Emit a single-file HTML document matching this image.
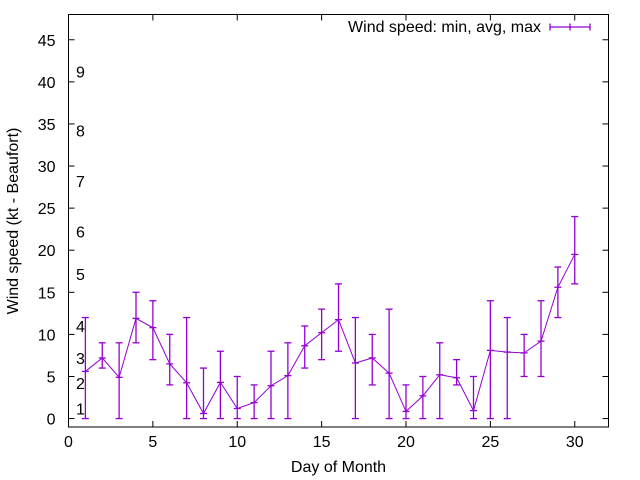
<!DOCTYPE html>
<html><head><meta charset="utf-8"><style>
body{margin:0;background:#fff}
svg{display:block;font-family:"Liberation Sans",sans-serif}
</style></head><body>
<svg id="chart" width="640" height="480" viewBox="0 0 640 480" xmlns="http://www.w3.org/2000/svg"></svg>
<script>
const days=[1,2,3,4,5,6,7,8,9,10,11,12,13,14,15,16,17,18,19,20,21,22,23,24,25,26,27,28,29,30];
const avgVals=[5.6,7.2,4.9,11.9,10.8,6.5,4.25,0.6,4.3,1.2,1.9,3.9,5.1,8.65,10.2,11.75,6.6,7.2,5.4,0.85,2.7,5.2,4.85,0.95,8.1,7.9,7.8,9.2,15.6,19.5];
const minVals=[0,6,0,9,7,4,0,0,0,0,0,0,0,6,7,8,0,4,0,0,0,0,4,0,0,0,5,5,12,16];
const maxVals=[12,9,9,15,14,10,12,6,8,5,4,8,9,11,13,16,12,10,13,4,5,9,7,5,14,12,10,14,18,24];
const xTicks=[0,5,10,15,20,25,30];
const yTicks=[0,5,10,15,20,25,30,35,40,45];
const beaufortLabels=["1","2","3","4","5","6","7","8","9"];
const beaufortVals=[1.2,4.2,7.2,11,17.2,22.2,28.2,34.2,41.2];

const L=68.5,R=608.5,T=14.5,B=427;
const xMin=0,xMax=32,yMin=-1,yMax=48;
const X=v=>L+(v-xMin)/(xMax-xMin)*(R-L);
const Y=v=>B-(v-yMin)/(yMax-yMin)*(B-T);
const svg=document.getElementById('chart');
const NS='http://www.w3.org/2000/svg';
function mk(tag,attrs,parent){const e=document.createElementNS(NS,tag);for(const k in attrs)e.setAttribute(k,attrs[k]);(parent||svg).appendChild(e);return e;}
const C='#9400d3';

xTicks.forEach(t=>{
  const g=mk('g',{});
  
  
  mk('line',{x1:X(t),x2:X(t),y1:B,y2:B-6,stroke:'#000'},g);
  mk('line',{x1:X(t),x2:X(t),y1:T,y2:T+6,stroke:'#000'},g);
  const tx=mk('text',{x:X(t),y:B+20,'text-anchor':'middle','font-size':'16'},g);tx.textContent=t;
});
yTicks.forEach(t=>{
  const g=mk('g',{});
  
  
  mk('line',{x1:L,x2:L+6,y1:Y(t),y2:Y(t),stroke:'#000'},g);
  mk('line',{x1:R,x2:R-6,y1:Y(t),y2:Y(t),stroke:'#000'},g);
  const tx=mk('text',{x:L-13,y:Y(t)+6,'text-anchor':'end','font-size':'16'},g);tx.textContent=t;
});
beaufortLabels.forEach((s,i)=>{
  const tx=mk('text',{x:76,y:Y(beaufortVals[i])+6,'font-size':'16'});
  
  
  tx.textContent=s;
});
const border=mk('rect',{x:L,y:T,width:R-L,height:B-T,fill:'none',stroke:'#000'});



let d='';
days.forEach((dy,i)=>{
  const x=X(dy);
  const g=mk('g',{stroke:C,'stroke-width':'1.3'});
  
  
  mk('line',{x1:x,x2:x,y1:Y(minVals[i]),y2:Y(maxVals[i])},g);
  mk('line',{x1:x-3.5,x2:x+3.5,y1:Y(minVals[i]),y2:Y(minVals[i])},g);
  mk('line',{x1:x-3.5,x2:x+3.5,y1:Y(maxVals[i]),y2:Y(maxVals[i])},g);
  mk('line',{x1:x-3.5,x2:x+3.5,y1:Y(avgVals[i]),y2:Y(avgVals[i])},g);
  d+=(i?'L':'M')+x+' '+Y(avgVals[i]);
});
const line=mk('path',{d:d,fill:'none',stroke:C,'stroke-width':'1'});



const lg=mk('g',{});


const lt=mk('text',{x:541,y:32,'text-anchor':'end','font-size':'16'},lg);lt.textContent='Wind speed: min, avg, max';
mk('line',{x1:550,x2:590,y1:27,y2:27,stroke:C,'stroke-width':'1.3'},lg);
[550,570,590].forEach(x=>mk('line',{x1:x,x2:x,y1:23.5,y2:30.5,stroke:C,'stroke-width':'1.3'},lg));

const xt=mk('text',{x:(L+R)/2,y:472,'text-anchor':'middle','font-size':'16'});


xt.textContent='Day of Month';
const yt=mk('text',{x:0,y:0,'text-anchor':'middle','font-size':'16',transform:'translate(18,221) rotate(-90)'});


yt.textContent='Wind speed (kt - Beaufort)';
</script>
</body></html>
